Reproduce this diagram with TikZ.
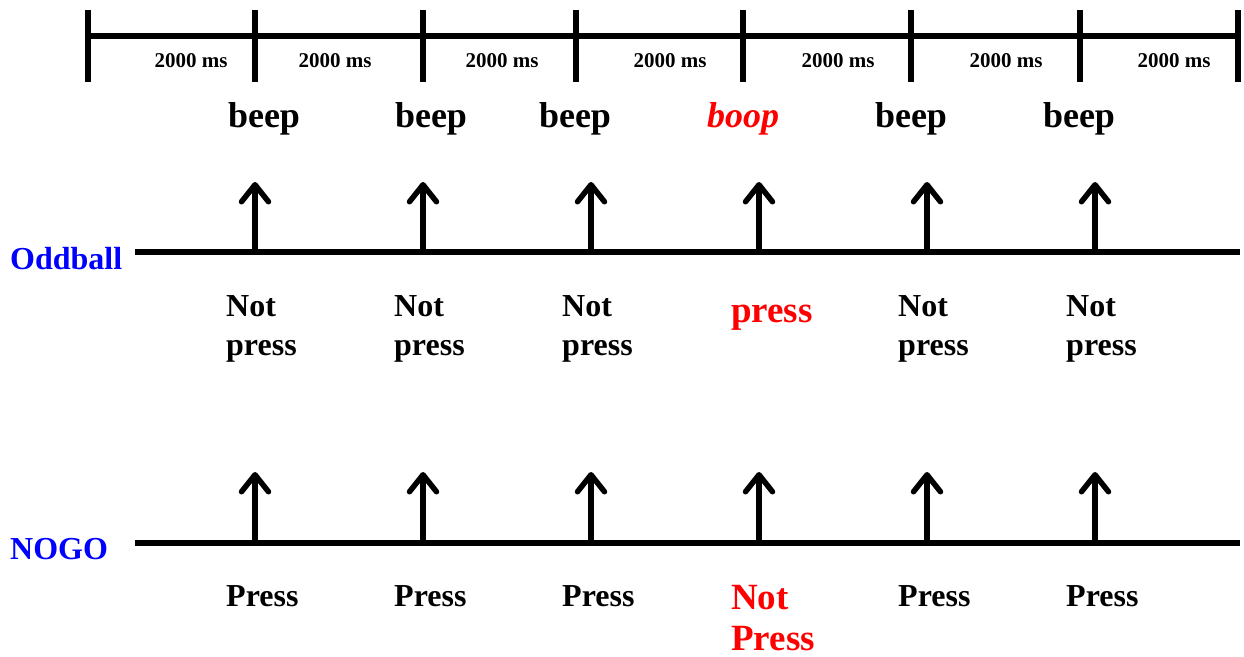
\documentclass[tikz,border=0pt]{standalone}
\usepackage{fontspec}
\setmainfont{Liberation Serif}
\usetikzlibrary{arrows.meta}
\definecolor{taskblue}{RGB}{0,0,255}
\definecolor{oddred}{RGB}{255,0,0}
\begin{document}
\begin{tikzpicture}[x=1pt,y=-1pt,
  rule/.style={line width=5.5pt},
  cue/.style={line width=5.5pt,-{Straight Barb[length=17pt,width=27pt,line cap=round,line join=round]}},
  dur/.style={font=\bfseries\fontsize{21}{25}\selectfont,anchor=base,inner sep=0pt},
  tone/.style={font=\bfseries\fontsize{36}{43}\selectfont,anchor=base,inner sep=0pt},
  resp/.style={font=\bfseries\fontsize{32}{39}\selectfont,align=left,anchor=base west,inner sep=0pt},
  bigresp/.style={font=\bfseries\fontsize{37}{41}\selectfont,align=left,anchor=base west,inner sep=0pt,text=oddred},
  task/.style={font=\bfseries\fontsize{32}{38}\selectfont,anchor=base west,inner sep=0pt,text=taskblue}]
\useasboundingbox (0,0) rectangle (1244,656);

% time axis with tick marks
\foreach \x [count=\i from 0] in {88,255,423,576,743,911,1080,1238}{
  \coordinate (t\i) at (\x,36);
  \coordinate (tu\i) at (\x,10);
  \coordinate (td\i) at (\x,82);
  \draw[rule] (tu\i) -- (td\i);
}
\draw[rule] (t0) -- (t7);

% interval durations
\foreach \x [count=\i] in {191,335,502,670,838,1006,1174}
  \node[dur] (d\i) at (\x,67) {2000 ms};

% tones
\node[tone] (s1) at (264,127) {beep};
\node[tone] (s2) at (431,127) {beep};
\node[tone] (s3) at (575,127) {beep};
\node[tone,text=oddred] (s4) at (743,127) {\itshape boop};
\node[tone] (s5) at (911,127) {beep};
\node[tone] (s6) at (1079,127) {beep};

% task lines
\node[task] (oddball) at (10,269) {Oddball};
\node[task] (nogo) at (10,559) {NOGO};
\coordinate (oL) at (135,252);
\coordinate (oR) at (1240,252);
\coordinate (nL) at (135,543);
\coordinate (nR) at (1240,543);
\draw[rule] (oL) -- (oR);
\draw[rule] (nL) -- (nR);

% stimulus onsets
\foreach \x [count=\i] in {255,423,591,759,927,1095}{
  \coordinate (ob\i) at (\x,252);
  \coordinate (ot\i) at (\x,182);
  \coordinate (nb\i) at (\x,543);
  \coordinate (nt\i) at (\x,472);
  \draw[cue] (ob\i) -- (ot\i);
  \draw[cue] (nb\i) -- (nt\i);
}

% responses, oddball task (base anchor sits on the last line)
\node[resp] (r1) at (226,355) {Not\\press};
\node[resp] (r2) at (394,355) {Not\\press};
\node[resp] (r3) at (562,355) {Not\\press};
\node[bigresp] (r4) at (731,322) {press};
\node[resp] (r5) at (898,355) {Not\\press};
\node[resp] (r6) at (1066,355) {Not\\press};

% responses, NOGO task
\node[resp] (g1) at (226,606) {Press};
\node[resp] (g2) at (394,606) {Press};
\node[resp] (g3) at (562,606) {Press};
\node[bigresp] (g4) at (731,650) {Not\\Press};
\node[resp] (g5) at (898,606) {Press};
\node[resp] (g6) at (1066,606) {Press};
\end{tikzpicture}
\end{document}
